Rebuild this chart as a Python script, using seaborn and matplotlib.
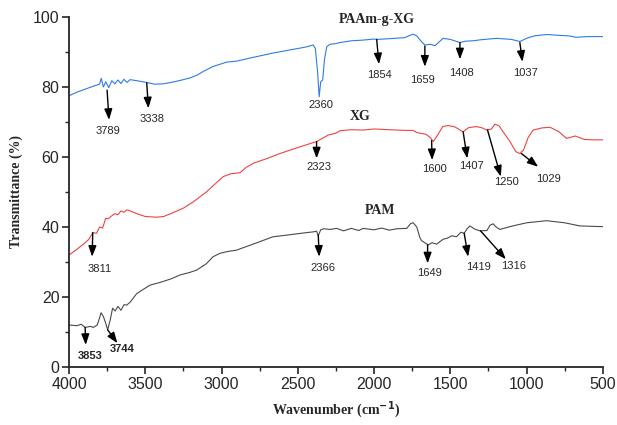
import numpy as np
import pandas as pd
import matplotlib
matplotlib.use("Agg")
import matplotlib.pyplot as plt
from matplotlib.ticker import MultipleLocator
import seaborn as sns

############### FTIR spectra
paam_xg_wn = [4000, 3950, 3900, 3862, 3830, 3800, 3789, 3775, 3760, 3740, 3720, 3700, 3680,
              3660, 3640, 3620, 3600, 3556, 3491, 3440, 3384, 3330, 3260, 3207, 3160, 3122,
              3060, 2967, 2900, 2800, 2663, 2550, 2450, 2400, 2385, 2370, 2360, 2350, 2337,
              2325, 2310, 2290, 2250, 2224, 2150, 2073, 2000, 1983, 1900, 1800, 1745, 1720,
              1690, 1667, 1630, 1601, 1570, 1548, 1500, 1437, 1400, 1352, 1300, 1197, 1100,
              1044, 1000, 950, 869, 800, 720, 673, 600, 500]
paam_xg_t = [77.5, 78.5, 79.3, 79.9, 80.4, 80.8, 82.5, 80.0, 81.5, 79.8, 81.8, 80.9, 82.0,
             81.0, 82.2, 81.3, 82.1, 81.8, 81.3, 80.8, 80.9, 81.3, 82.0, 82.6, 83.4, 84.4,
             85.8, 87.1, 87.4, 88.4, 89.7, 90.6, 91.4, 92.0, 91.0, 84.0, 77.2, 81.5, 82.0,
             88.0, 91.5, 92.2, 92.4, 92.7, 93.2, 93.4, 93.7, 93.6, 93.8, 94.1, 95.1, 94.6,
             93.0, 92.0, 92.2, 91.8, 93.0, 93.9, 93.6, 92.7, 93.1, 93.2, 93.5, 93.9, 93.6,
             93.0, 93.9, 94.6, 95.0, 94.8, 94.6, 94.2, 94.4, 94.4]

xg_wn = [4000, 3950, 3900, 3870, 3845, 3820, 3800, 3780, 3760, 3745, 3720, 3700, 3680, 3660,
         3640, 3622, 3600, 3550, 3500, 3425, 3380, 3318, 3250, 3185, 3100, 3050, 2989, 2940,
         2879, 2840, 2792, 2700, 2617, 2500, 2400, 2377, 2340, 2300, 2250, 2224, 2150, 2073,
         2000, 1900, 1800, 1745, 1720, 1700, 1660, 1630, 1612, 1580, 1550, 1514, 1470, 1430,
         1416, 1380, 1328, 1290, 1262, 1230, 1208, 1180, 1154, 1110, 1070, 1044, 1020, 990,
         957, 900, 847, 790, 738, 680, 620, 560, 500]
xg_t = [32.0, 33.6, 35.3, 36.5, 38.4, 38.2, 40.0, 39.7, 42.5, 42.3, 43.2, 43.8, 43.5, 44.6,
        44.2, 44.9, 44.6, 43.7, 43.0, 42.8, 43.0, 44.1, 45.4, 47.2, 50.0, 52.0, 54.4, 55.2,
        55.5, 57.0, 58.2, 59.6, 61.0, 62.7, 64.1, 64.4, 65.3, 66.3, 66.8, 67.5, 67.8, 67.7,
        68.0, 67.8, 67.6, 67.6, 67.0, 66.8, 66.5, 65.5, 64.4, 66.5, 68.7, 69.0, 68.6, 67.5,
        67.2, 68.4, 68.7, 68.3, 67.7, 68.0, 69.4, 68.9, 67.2, 64.5, 61.5, 61.0, 62.0, 65.5,
        67.7, 68.3, 68.5, 67.3, 65.3, 66.0, 65.0, 64.9, 64.9]

pam_wn = [4000, 3950, 3920, 3895, 3860, 3841, 3815, 3790, 3775, 3760, 3747, 3730, 3715, 3698,
          3680, 3660, 3640, 3622, 3600, 3556, 3520, 3469, 3400, 3330, 3272, 3210, 3163, 3100,
          3056, 3010, 2960, 2901, 2800, 2663, 2550, 2442, 2400, 2377, 2366, 2350, 2330, 2290,
          2246, 2200, 2150, 2100, 2073, 2000, 1950, 1900, 1850, 1786, 1760, 1744, 1720, 1700,
          1689, 1660, 1645, 1620, 1590, 1547, 1520, 1490, 1460, 1430, 1409, 1390, 1372, 1340,
          1306, 1260, 1240, 1219, 1200, 1175, 1100, 1000, 869, 750, 650, 500]
pam_t = [12.0, 11.8, 12.2, 11.3, 11.6, 11.3, 12.0, 15.5, 14.4, 12.5, 10.6, 13.5, 16.8, 16.0,
         17.3, 16.2, 17.8, 17.7, 18.5, 21.0, 22.0, 23.4, 24.2, 25.2, 26.3, 27.0, 27.7, 29.5,
         31.5, 32.5, 33.0, 33.4, 35.0, 37.2, 37.8, 38.4, 38.6, 38.8, 37.5, 39.2, 39.5, 39.3,
         39.6, 38.9, 39.6, 39.0, 39.6, 39.2, 39.7, 39.1, 39.5, 39.6, 41.0, 41.2, 40.0, 37.0,
         36.1, 35.3, 34.9, 35.5, 35.1, 36.5, 36.8, 37.5, 37.2, 38.5, 38.2, 39.5, 40.3, 39.4,
         38.9, 39.0, 40.5, 40.9, 40.0, 39.3, 40.2, 41.2, 41.8, 41.2, 40.3, 40.1]

x_ticks = [4000, 3500, 3000, 2500, 2000, 1500, 1000, 500]
y_ticks = [0, 20, 40, 60, 80, 100]

# peak labels: (text, arrow tail, arrow head, text position, bold)
paam_xg_peaks = [("3789", (3751, 79.1), (3738, 70.6), (3745, 67.4), False),
                 ("3338", (3491, 81.2), (3480, 73.9), (3458, 70.9), False),
                 ("2360", None, None, (2350, 74.9), False),
                 ("1854", (1983, 93.6), (1968, 86.5), (1962, 83.4), False),
                 ("1659", (1667, 91.7), (1667, 85.8), (1682, 82.0), False),
                 ("1408", (1437, 92.7), (1437, 87.9), (1426, 83.9), False),
                 ("1037", (1044, 92.7), (1027, 87.2), (1005, 83.9), False)]
xg_peaks = [("3811", (3845, 38.4), (3849, 31.5), (3797, 28.0), False),
            ("2323", (2377, 64.4), (2377, 59.6), (2359, 57.2), False),
            ("1600", (1623, 64.7), (1619, 59.1), (1601, 56.7), False),
            ("1407", (1416, 67.2), (1389, 59.6), (1361, 57.5), False),
            ("1250", (1256, 67.7), (1169, 54.4), (1131, 52.9), False),
            ("1029", (1034, 61.0), (924, 57.2), (858, 53.6), False)]
pam_peaks = [("3853", (3895, 11.3), (3891, 6.3), (3862, 3.2), True),
             ("3744", (3747, 10.6), (3683, 6.8), (3649, 5.0), True),
             ("2366", (2366, 37.7), (2360, 31.5), (2333, 28.2), False),
             ("1649", (1649, 34.9), (1649, 29.6), (1638, 26.9), False),
             ("1419", (1409, 38.2), (1383, 31.5), (1317, 28.6), False),
             ("1316", (1302, 38.9), (1136, 30.8), (1088, 28.9), False)]

sns.set_style("ticks")
plt.rcParams['font.family'] = ['Liberation Sans', 'DejaVu Sans']

fig = plt.figure(figsize=(6.17, 4.25), dpi=100)
ax = fig.add_axes([0.112, 0.1365, 0.865, 0.8235])

series = [(paam_xg_wn, paam_xg_t, "#2f7be3", paam_xg_peaks),
          (xg_wn, xg_t, "#f04242", xg_peaks),
          (pam_wn, pam_t, "#4a4a4a", pam_peaks)]

for wn, t, col, peaks in series:
    df = pd.DataFrame({"wn": wn, "t": t})
    sns.lineplot(data=df, x="wn", y="t", ax=ax, color=col, lw=0.8)
    for txt, tail, head, pos, bold in peaks:
        if tail is not None:
            ax.annotate("", xy=head, xytext=tail,
                        arrowprops=dict(arrowstyle="-|>,head_length=0.65,head_width=0.24",
                                        color="black", lw=1.0, shrinkA=0, shrinkB=0))
        ax.text(pos[0], pos[1], txt, fontsize=8, ha="center", va="center",
                fontweight="bold" if bold else "normal")

title_font = dict(family="Liberation Serif", fontweight="bold", fontsize=10,
                  ha="center", va="center")
ax.text(1983, 99.4, "PAAm-g-XG", **title_font)
ax.text(2093, 71.7, "XG", **title_font)
ax.text(1962, 44.7, "PAM", **title_font)

ax.set_xlim(4000, 500)
ax.set_ylim(0, 100)
ax.set_xticks(x_ticks)
ax.set_yticks(y_ticks)
ax.xaxis.set_minor_locator(MultipleLocator(250))
ax.yaxis.set_minor_locator(MultipleLocator(10))
ax.tick_params(which="major", direction="out", length=5, width=1.2, labelsize=11.5, pad=2)
ax.tick_params(which="minor", direction="out", length=3, width=1.0)
for s in ["left", "bottom"]:
    ax.spines[s].set_linewidth(1.3)
sns.despine(ax=ax)

ax.set_xlabel("Wavenumber (cm$^{\\mathbf{-1}}$)", family="Liberation Serif",
              fontweight="bold", fontsize=10, labelpad=5)
ax.set_ylabel("Transmittance (%)", family="Liberation Serif", fontweight="bold",
              fontsize=10, labelpad=7)

fig.savefig("out.png", dpi=100)
